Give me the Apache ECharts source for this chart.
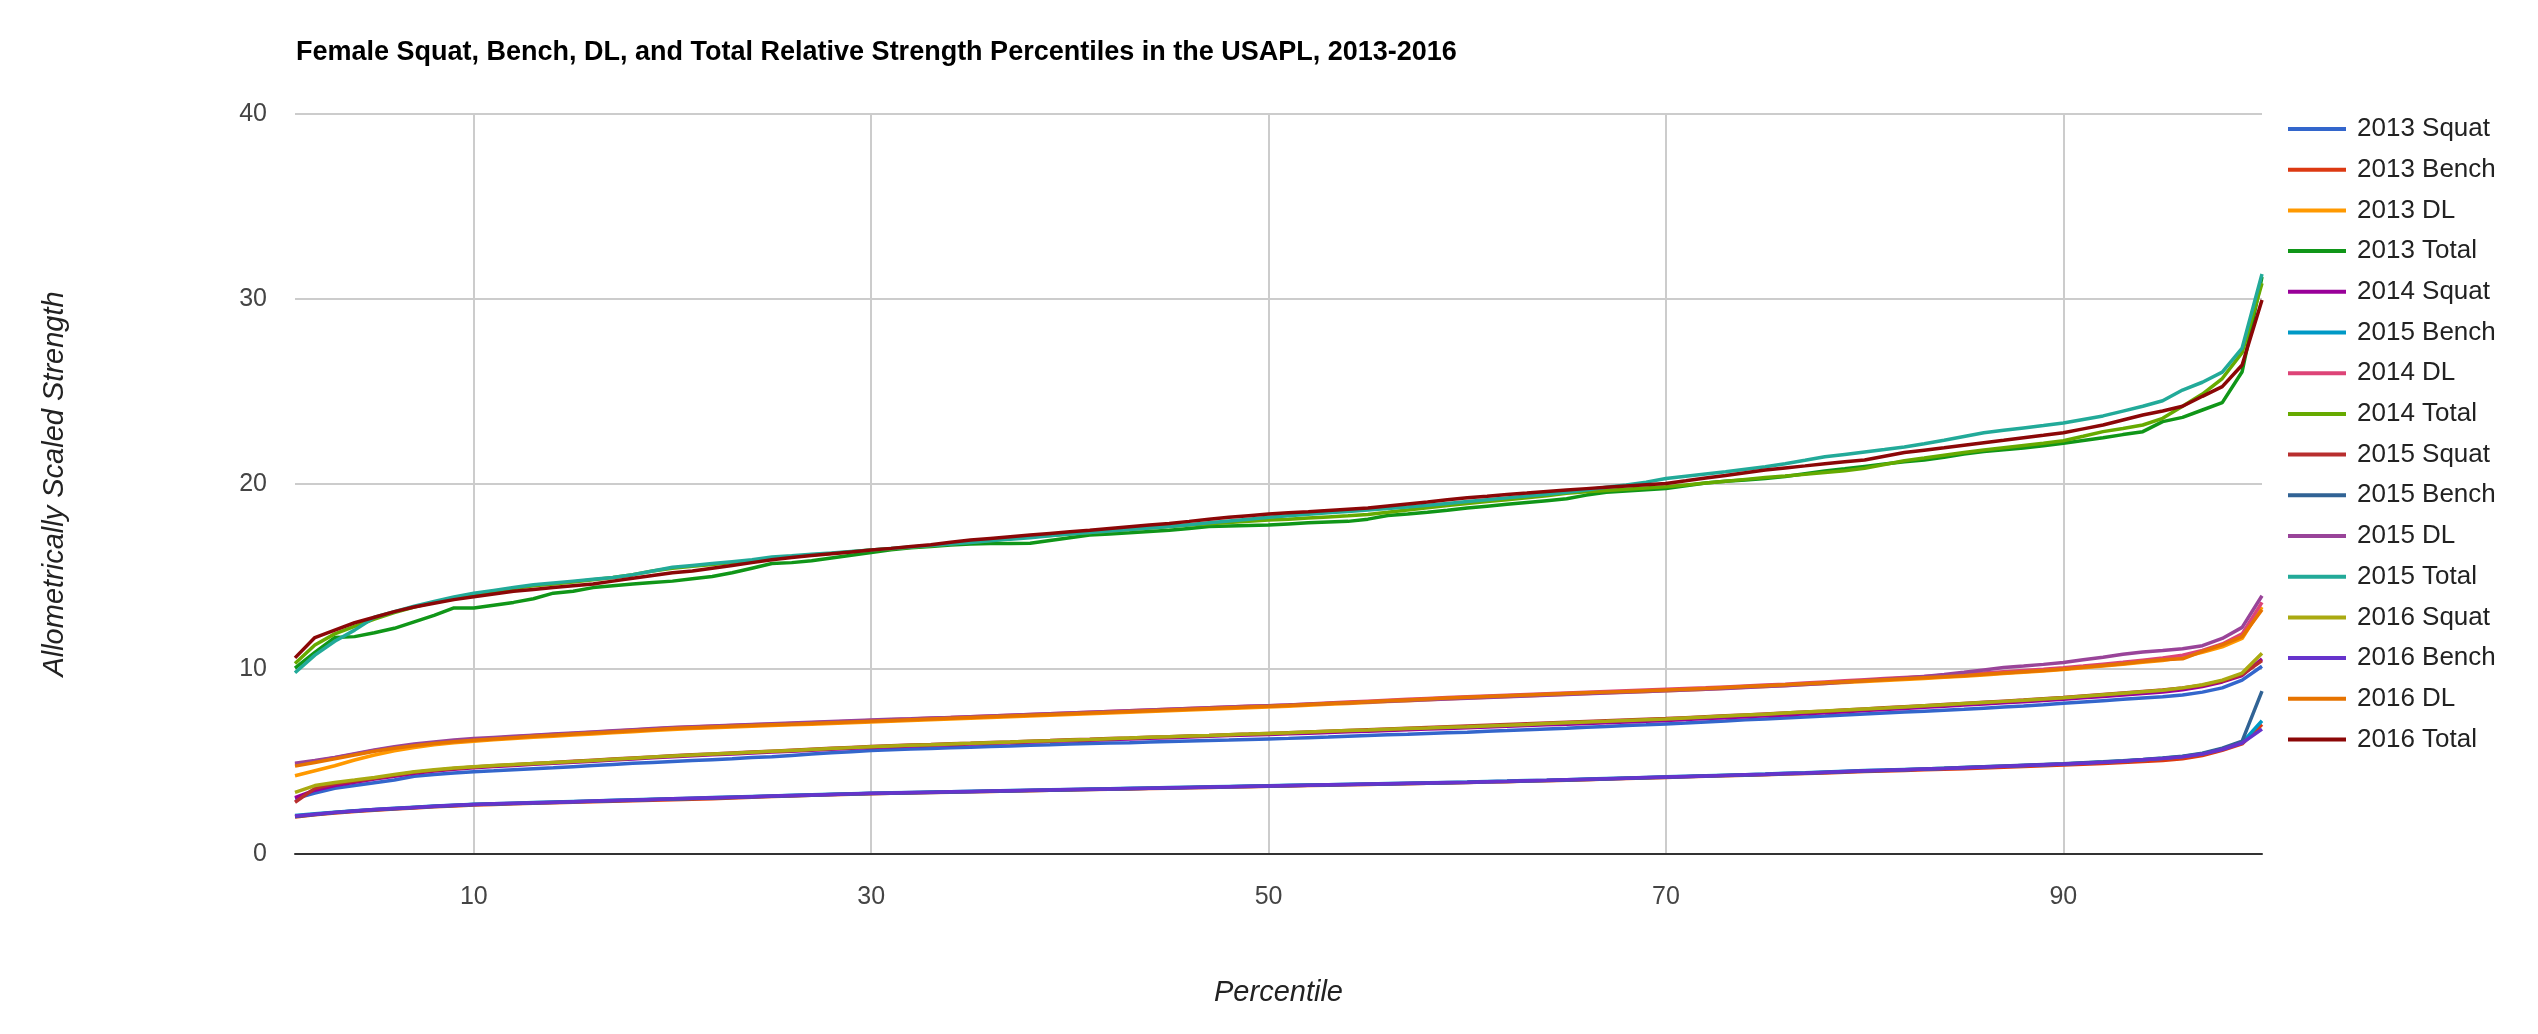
<!DOCTYPE html>
<html><head><meta charset="utf-8">
<script src="https://cdn.jsdelivr.net/npm/echarts@6/dist/echarts.min.js"></script>
<style>html,body{margin:0;padding:0;background:#fff}#c{width:2538px;height:1034px}</style>
</head><body><div id="c"></div>
<script>
const titleText = "Female Squat, Bench, DL, and Total Relative Strength Percentiles in the USAPL, 2013-2016";
const xAxisTitle = "Percentile";
const yAxisTitle = "Allometrically Scaled Strength";
const percentiles = [1,2,3,4,5,6,7,8,9,10,11,12,13,14,15,16,17,18,19,20,21,22,23,24,25,26,27,28,29,30,31,32,33,34,35,36,37,38,39,40,41,42,43,44,45,46,47,48,49,50,51,52,53,54,55,56,57,58,59,60,61,62,63,64,65,66,67,68,69,70,71,72,73,74,75,76,77,78,79,80,81,82,83,84,85,86,87,88,89,90,91,92,93,94,95,96,97,98,99,100];
const xTickValues = [10,30,50,70,90];
const yTickValues = [0,10,20,30,40];
const legendLabels = ["2013 Squat","2013 Bench","2013 DL","2013 Total","2014 Squat","2015 Bench","2014 DL","2014 Total","2015 Squat","2015 Bench","2015 DL","2015 Total","2016 Squat","2016 Bench","2016 DL","2016 Total"];
const colors = ["#3366cc","#dc3912","#ff9900","#109618","#990099","#0099c6","#dd4477","#66aa00","#b82e2e","#316395","#994499","#22aa99","#aaaa11","#6633cc","#e67300","#8b0707"];

const squat2013 = [3.00,3.30,3.55,3.70,3.85,4.00,4.20,4.30,4.38,4.45,4.50,4.56,4.61,4.66,4.72,4.78,4.84,4.90,4.95,5.00,5.05,5.10,5.15,5.21,5.26,5.33,5.40,5.47,5.53,5.59,5.63,5.67,5.70,5.74,5.77,5.81,5.84,5.88,5.91,5.95,5.97,6.00,6.02,6.05,6.08,6.11,6.14,6.16,6.19,6.22,6.25,6.29,6.32,6.36,6.40,6.44,6.47,6.51,6.55,6.58,6.63,6.67,6.72,6.76,6.80,6.85,6.89,6.94,6.98,7.03,7.08,7.14,7.19,7.25,7.30,7.35,7.41,7.46,7.52,7.57,7.62,7.67,7.72,7.77,7.82,7.88,7.94,8.00,8.07,8.15,8.22,8.29,8.36,8.43,8.50,8.60,8.75,8.98,9.40,10.15];
const bench2013 = [2.00,2.12,2.22,2.30,2.37,2.43,2.49,2.55,2.60,2.65,2.68,2.71,2.74,2.77,2.80,2.82,2.85,2.88,2.90,2.93,2.96,2.99,3.03,3.07,3.11,3.14,3.17,3.20,3.23,3.26,3.28,3.30,3.32,3.34,3.36,3.38,3.40,3.42,3.44,3.46,3.48,3.50,3.52,3.54,3.56,3.58,3.60,3.62,3.64,3.66,3.68,3.70,3.72,3.74,3.76,3.78,3.80,3.82,3.84,3.86,3.89,3.91,3.94,3.96,3.99,4.02,4.05,4.08,4.11,4.14,4.17,4.20,4.23,4.26,4.29,4.32,4.35,4.38,4.42,4.46,4.49,4.52,4.55,4.58,4.61,4.65,4.69,4.73,4.77,4.81,4.85,4.89,4.94,5.00,5.06,5.15,5.32,5.60,5.95,7.00];
const dl2013 = [4.23,4.50,4.77,5.08,5.35,5.58,5.76,5.90,6.01,6.10,6.17,6.24,6.31,6.37,6.43,6.49,6.55,6.61,6.67,6.73,6.78,6.82,6.86,6.90,6.94,6.98,7.02,7.06,7.10,7.14,7.18,7.22,7.26,7.30,7.34,7.38,7.42,7.46,7.50,7.54,7.58,7.62,7.66,7.70,7.74,7.78,7.82,7.86,7.90,7.94,7.99,8.04,8.09,8.14,8.19,8.24,8.29,8.34,8.39,8.43,8.47,8.51,8.55,8.59,8.63,8.67,8.71,8.75,8.79,8.82,8.86,8.91,8.96,9.01,9.06,9.11,9.16,9.22,9.27,9.33,9.38,9.43,9.49,9.55,9.61,9.68,9.75,9.82,9.89,9.97,10.07,10.16,10.25,10.36,10.46,10.64,10.90,11.20,11.65,13.35];
const total2013 = [10.05,10.90,11.70,11.75,11.96,12.20,12.55,12.90,13.30,13.30,13.45,13.60,13.80,14.10,14.20,14.40,14.50,14.60,14.68,14.75,14.88,15.00,15.20,15.45,15.70,15.75,15.85,16.00,16.15,16.30,16.45,16.55,16.62,16.70,16.76,16.78,16.79,16.80,16.95,17.10,17.24,17.30,17.36,17.43,17.50,17.60,17.70,17.73,17.76,17.78,17.84,17.90,17.95,17.98,18.10,18.30,18.38,18.47,18.58,18.70,18.80,18.90,19.00,19.10,19.20,19.40,19.55,19.62,19.69,19.76,19.90,20.05,20.15,20.22,20.30,20.40,20.55,20.70,20.82,20.95,21.08,21.20,21.30,21.45,21.62,21.75,21.85,21.95,22.07,22.20,22.35,22.50,22.67,22.83,23.37,23.60,24.00,24.40,26.07,31.20];
const squat2014 = [3.05,3.45,3.70,3.88,4.05,4.20,4.36,4.48,4.58,4.66,4.73,4.79,4.85,4.91,4.96,5.02,5.08,5.14,5.20,5.26,5.31,5.36,5.41,5.46,5.51,5.56,5.61,5.66,5.71,5.76,5.80,5.84,5.88,5.91,5.95,5.98,6.02,6.05,6.09,6.12,6.15,6.19,6.22,6.26,6.29,6.33,6.36,6.40,6.43,6.46,6.50,6.53,6.57,6.61,6.64,6.68,6.72,6.75,6.79,6.82,6.86,6.90,6.94,6.98,7.02,7.06,7.10,7.14,7.18,7.22,7.27,7.32,7.37,7.42,7.47,7.52,7.58,7.63,7.69,7.75,7.81,7.87,7.93,7.99,8.05,8.11,8.17,8.23,8.30,8.37,8.44,8.52,8.60,8.68,8.76,8.88,9.05,9.30,9.65,10.55];
const bench2014 = [2.08,2.17,2.26,2.34,2.41,2.47,2.53,2.59,2.64,2.69,2.72,2.75,2.78,2.81,2.84,2.87,2.90,2.93,2.96,2.99,3.02,3.05,3.08,3.11,3.14,3.17,3.20,3.23,3.26,3.29,3.31,3.33,3.35,3.37,3.39,3.41,3.43,3.45,3.47,3.49,3.51,3.53,3.55,3.57,3.59,3.61,3.63,3.65,3.67,3.69,3.71,3.73,3.75,3.77,3.79,3.81,3.83,3.85,3.87,3.89,3.92,3.94,3.97,3.99,4.02,4.05,4.08,4.11,4.14,4.17,4.20,4.23,4.26,4.29,4.32,4.36,4.39,4.43,4.47,4.51,4.54,4.57,4.60,4.63,4.67,4.71,4.75,4.79,4.83,4.87,4.92,4.97,5.03,5.10,5.18,5.27,5.42,5.68,6.02,7.20];
const dl2014 = [4.85,5.02,5.20,5.40,5.60,5.76,5.89,6.01,6.11,6.19,6.26,6.33,6.40,6.46,6.52,6.58,6.64,6.70,6.76,6.82,6.86,6.90,6.94,6.98,7.02,7.06,7.10,7.14,7.18,7.22,7.26,7.30,7.34,7.38,7.42,7.46,7.50,7.54,7.58,7.62,7.66,7.70,7.74,7.78,7.82,7.86,7.90,7.94,7.98,8.02,8.06,8.11,8.16,8.21,8.26,8.31,8.36,8.41,8.46,8.50,8.54,8.58,8.62,8.66,8.70,8.74,8.78,8.82,8.86,8.90,8.94,8.98,9.03,9.08,9.13,9.18,9.24,9.30,9.36,9.42,9.48,9.54,9.60,9.66,9.72,9.78,9.85,9.92,9.99,10.07,10.16,10.26,10.36,10.48,10.60,10.75,11.00,11.35,11.90,13.60];
const total2014 = [10.30,11.30,11.90,12.30,12.70,13.05,13.35,13.60,13.85,14.05,14.20,14.35,14.50,14.60,14.70,14.82,14.95,15.10,15.30,15.45,15.55,15.65,15.75,15.85,16.00,16.08,16.16,16.25,16.34,16.43,16.50,16.58,16.66,16.75,16.85,16.95,17.05,17.15,17.22,17.30,17.38,17.46,17.54,17.62,17.70,17.78,17.85,17.92,17.98,18.05,18.10,18.16,18.22,18.28,18.35,18.47,18.60,18.72,18.84,18.95,19.05,19.15,19.25,19.37,19.50,19.58,19.65,19.72,19.79,19.85,19.95,20.05,20.15,20.25,20.35,20.43,20.52,20.62,20.72,20.85,21.05,21.26,21.40,21.55,21.70,21.84,21.96,22.08,22.20,22.34,22.58,22.83,23.00,23.19,23.55,24.20,24.86,25.70,27.10,30.85];
const squat2015 = [2.80,3.55,3.80,3.95,4.10,4.25,4.42,4.52,4.62,4.70,4.77,4.83,4.89,4.95,5.01,5.07,5.13,5.19,5.25,5.31,5.36,5.41,5.46,5.51,5.56,5.61,5.66,5.71,5.76,5.81,5.85,5.89,5.92,5.96,5.99,6.03,6.06,6.10,6.13,6.17,6.20,6.24,6.27,6.31,6.34,6.38,6.41,6.45,6.48,6.52,6.56,6.60,6.64,6.68,6.72,6.76,6.80,6.84,6.88,6.92,6.96,7.00,7.04,7.08,7.12,7.16,7.20,7.24,7.28,7.32,7.37,7.42,7.47,7.52,7.57,7.62,7.67,7.72,7.78,7.84,7.90,7.96,8.02,8.08,8.14,8.20,8.26,8.32,8.39,8.46,8.54,8.62,8.70,8.78,8.86,8.97,9.12,9.35,9.70,10.45];
const bench2015 = [2.02,2.14,2.24,2.32,2.39,2.45,2.51,2.57,2.62,2.67,2.70,2.73,2.76,2.79,2.82,2.85,2.88,2.91,2.94,2.97,3.00,3.03,3.06,3.09,3.12,3.15,3.18,3.21,3.24,3.27,3.29,3.31,3.33,3.35,3.37,3.39,3.41,3.43,3.45,3.47,3.49,3.51,3.53,3.55,3.57,3.59,3.61,3.63,3.65,3.67,3.69,3.71,3.73,3.75,3.77,3.79,3.81,3.83,3.85,3.87,3.90,3.92,3.95,3.97,4.00,4.03,4.06,4.09,4.12,4.15,4.18,4.21,4.24,4.27,4.30,4.34,4.37,4.41,4.45,4.49,4.52,4.56,4.60,4.64,4.68,4.72,4.76,4.80,4.84,4.88,4.93,4.98,5.04,5.11,5.19,5.29,5.45,5.72,6.10,8.80];
const dl2015 = [4.90,5.05,5.22,5.42,5.62,5.80,5.94,6.06,6.16,6.24,6.30,6.36,6.42,6.48,6.54,6.60,6.66,6.72,6.78,6.84,6.88,6.92,6.96,7.00,7.04,7.08,7.12,7.16,7.20,7.24,7.28,7.31,7.35,7.38,7.42,7.46,7.50,7.54,7.58,7.62,7.66,7.70,7.74,7.78,7.82,7.86,7.90,7.94,7.98,8.02,8.06,8.10,8.14,8.18,8.22,8.26,8.30,8.34,8.38,8.42,8.46,8.50,8.54,8.58,8.62,8.66,8.70,8.74,8.78,8.82,8.86,8.90,8.95,9.00,9.05,9.10,9.16,9.22,9.30,9.38,9.45,9.52,9.60,9.70,9.82,9.95,10.08,10.16,10.25,10.35,10.50,10.63,10.80,10.92,11.00,11.10,11.26,11.65,12.25,13.96];
const total2015 = [9.80,10.75,11.50,12.10,12.80,13.10,13.40,13.65,13.90,14.10,14.25,14.40,14.55,14.65,14.75,14.85,14.95,15.10,15.30,15.50,15.60,15.70,15.80,15.90,16.05,16.12,16.20,16.27,16.35,16.43,16.52,16.60,16.68,16.76,16.84,16.93,17.02,17.10,17.20,17.30,17.38,17.46,17.54,17.62,17.70,17.80,17.90,18.00,18.10,18.20,18.28,18.36,18.44,18.52,18.60,18.68,18.76,18.85,18.95,19.05,19.15,19.25,19.35,19.45,19.55,19.68,19.82,19.95,20.10,20.30,20.42,20.54,20.66,20.80,20.93,21.10,21.28,21.47,21.60,21.73,21.86,22.00,22.18,22.37,22.57,22.77,22.90,23.03,23.16,23.30,23.49,23.68,23.94,24.20,24.50,25.08,25.50,26.05,27.35,31.35];
const squat2016 = [3.33,3.70,3.87,4.00,4.14,4.30,4.45,4.55,4.65,4.72,4.78,4.84,4.89,4.95,5.00,5.06,5.12,5.18,5.24,5.30,5.35,5.40,5.45,5.50,5.55,5.60,5.65,5.70,5.75,5.80,5.84,5.88,5.91,5.95,5.98,6.02,6.05,6.09,6.12,6.16,6.19,6.23,6.27,6.31,6.34,6.38,6.41,6.45,6.48,6.52,6.55,6.59,6.63,6.67,6.70,6.74,6.78,6.81,6.85,6.88,6.92,6.96,7.00,7.05,7.09,7.13,7.17,7.22,7.26,7.30,7.35,7.40,7.46,7.51,7.56,7.62,7.67,7.73,7.78,7.84,7.89,7.95,8.01,8.07,8.13,8.19,8.25,8.31,8.38,8.45,8.53,8.61,8.69,8.77,8.85,8.98,9.15,9.40,9.78,10.85];
const bench2016 = [2.05,2.15,2.25,2.33,2.40,2.46,2.52,2.58,2.63,2.68,2.71,2.74,2.77,2.80,2.83,2.86,2.89,2.92,2.95,2.98,3.01,3.04,3.07,3.10,3.13,3.16,3.19,3.22,3.25,3.28,3.30,3.32,3.34,3.36,3.38,3.40,3.42,3.44,3.46,3.48,3.50,3.52,3.54,3.56,3.58,3.60,3.62,3.64,3.66,3.68,3.70,3.72,3.74,3.76,3.78,3.80,3.82,3.84,3.86,3.88,3.91,3.93,3.96,3.98,4.01,4.04,4.07,4.10,4.13,4.16,4.19,4.22,4.25,4.28,4.31,4.35,4.38,4.42,4.46,4.50,4.53,4.56,4.59,4.62,4.66,4.70,4.74,4.78,4.82,4.86,4.91,4.96,5.02,5.09,5.16,5.25,5.40,5.65,6.00,6.75];
const dl2016 = [4.75,4.95,5.15,5.35,5.55,5.72,5.85,5.97,6.07,6.15,6.22,6.29,6.36,6.42,6.48,6.54,6.60,6.66,6.72,6.78,6.82,6.86,6.90,6.94,6.98,7.02,7.06,7.10,7.14,7.18,7.22,7.26,7.30,7.34,7.38,7.42,7.46,7.50,7.54,7.58,7.62,7.66,7.70,7.74,7.78,7.82,7.86,7.90,7.94,7.98,8.03,8.08,8.13,8.18,8.23,8.28,8.33,8.38,8.43,8.47,8.51,8.55,8.59,8.63,8.67,8.71,8.75,8.79,8.83,8.86,8.90,8.95,9.00,9.05,9.10,9.15,9.20,9.26,9.31,9.37,9.42,9.47,9.53,9.58,9.64,9.71,9.78,9.85,9.92,10.00,10.10,10.19,10.28,10.40,10.50,10.55,10.95,11.30,11.75,13.20];
const total2016 = [10.60,11.70,12.10,12.50,12.80,13.10,13.35,13.55,13.75,13.90,14.05,14.20,14.30,14.40,14.50,14.60,14.75,14.90,15.05,15.20,15.30,15.45,15.60,15.75,15.90,16.03,16.13,16.23,16.33,16.43,16.52,16.62,16.72,16.85,16.97,17.06,17.15,17.24,17.33,17.42,17.50,17.60,17.69,17.78,17.87,17.98,18.10,18.20,18.29,18.38,18.44,18.50,18.57,18.64,18.70,18.81,18.92,19.03,19.15,19.26,19.34,19.43,19.51,19.60,19.68,19.75,19.82,19.89,19.96,20.03,20.17,20.32,20.46,20.61,20.76,20.87,20.98,21.10,21.20,21.30,21.50,21.70,21.83,21.96,22.10,22.23,22.36,22.50,22.63,22.77,22.98,23.19,23.46,23.73,23.95,24.20,24.74,25.26,26.43,29.95];

const seriesValues = [squat2013,bench2013,dl2013,total2013,squat2014,bench2014,dl2014,total2014,squat2015,bench2015,dl2015,total2015,squat2016,bench2016,dl2016,total2016];

const FONT = "'Liberation Sans', Arial, sans-serif";
const keys = legendLabels.map((l, i) => l + '|' + i);

const chart = echarts.init(document.getElementById('c'), null, {renderer: 'canvas'});
chart.setOption({
  animation: false,
  color: colors,
  title: {
    text: titleText, left: 291, top: 34,
    textStyle: {fontFamily: FONT, fontWeight: 'bold', fontSize: 27, color: '#000'}
  },
  legend: {
    orient: 'vertical', left: 2283, top: 110,
    itemWidth: 58, itemHeight: 4, itemGap: 12.7,
    icon: 'rect',
    data: keys,
    formatter: n => n.split('|')[0],
    textStyle: {fontFamily: FONT, fontSize: 26, color: '#222', lineHeight: 28, padding: [0, 0, 0, 6]}
  },
  grid: {left: 295, right: 276, top: 114, bottom: 180},
  xAxis: {
    type: 'value', min: 1, max: 100,
    name: xAxisTitle, nameLocation: 'middle', nameGap: 124,
    nameTextStyle: {fontFamily: FONT, fontStyle: 'italic', fontSize: 29, color: '#222'},
    axisLine: {show: true, onZero: false, lineStyle: {color: '#333', width: 2}},
    axisTick: {show: false, customValues: xTickValues},
    axisLabel: {customValues: xTickValues, fontFamily: FONT, fontSize: 25, color: '#444', margin: 31},
    splitLine: {show: true, lineStyle: {color: '#cccccc', width: 2}}
  },
  yAxis: {
    type: 'value', min: yTickValues[0], max: yTickValues[yTickValues.length - 1], interval: 10,
    name: yAxisTitle, nameLocation: 'middle', nameGap: 226,
    nameTextStyle: {fontFamily: FONT, fontStyle: 'italic', fontSize: 29, color: '#222'},
    axisLine: {show: false}, axisTick: {show: false},
    axisLabel: {fontFamily: FONT, fontSize: 25, color: '#444', margin: 28},
    splitLine: {show: true, lineStyle: {color: '#cccccc', width: 2}}
  },
  series: keys.map((k, i) => ({
    name: k, type: 'line', symbol: 'none', showSymbol: false,
    data: percentiles.map((p, j) => [p, seriesValues[i][j]]),
    lineStyle: {width: 3.5, color: colors[i]},
    itemStyle: {color: colors[i]},
    emphasis: {disabled: true}
  }))
});
</script></body></html>
